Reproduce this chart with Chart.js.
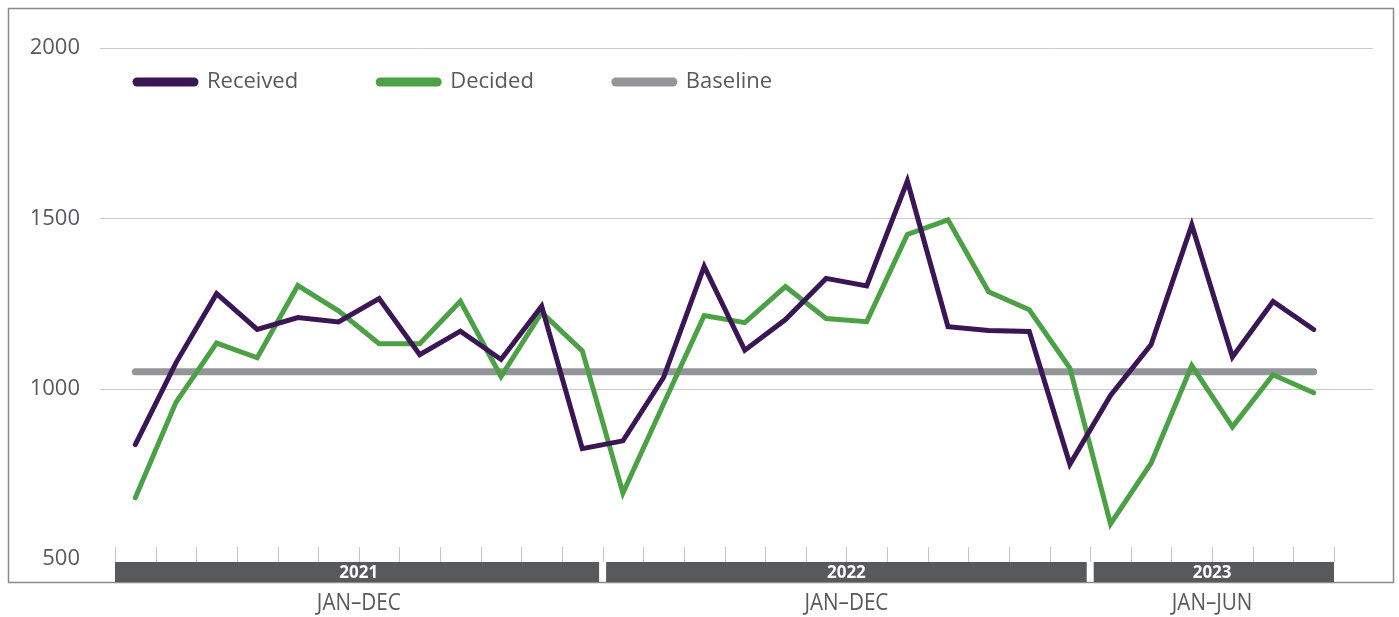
<!DOCTYPE html>
<html>
<head>
<meta charset="utf-8">
<script src="https://cdn.jsdelivr.net/npm/chart.js@4/dist/chart.umd.min.js"></script>
<style>
  html, body { margin: 0; padding: 0; background: #ffffff; }
  #wrap { position: relative; width: 1399px; height: 617px; }
</style>
</head>
<body>
<div id="wrap"><canvas id="c" width="1399" height="617"></canvas></div>
<script>
// Monthly categories, Jan 2021 – Jun 2023
const months = [
  '2021-01','2021-02','2021-03','2021-04','2021-05','2021-06',
  '2021-07','2021-08','2021-09','2021-10','2021-11','2021-12',
  '2022-01','2022-02','2022-03','2022-04','2022-05','2022-06',
  '2022-07','2022-08','2022-09','2022-10','2022-11','2022-12',
  '2023-01','2023-02','2023-03','2023-04','2023-05','2023-06'
];

const received = [
  836, 1076, 1279, 1174, 1209, 1196, 1265, 1100, 1169, 1086, 1242, 824,
  847, 1033, 1359, 1113, 1203, 1324, 1302, 1610, 1182, 1171, 1168, 778,
  980, 1130, 1481, 1093, 1256, 1174
];

const decided = [
  680, 960, 1134, 1091, 1303, 1229, 1132, 1132, 1257, 1036, 1224, 1111,
  694, 955, 1215, 1194, 1300, 1206, 1197, 1453, 1496, 1285, 1232, 1061,
  603, 782, 1068, 888, 1041, 988
];

const baseline = [
  1050, 1050, 1050, 1050, 1050, 1050, 1050, 1050, 1050, 1050, 1050, 1050,
  1050, 1050, 1050, 1050, 1050, 1050, 1050, 1050, 1050, 1050, 1050, 1050,
  1050, 1050, 1050, 1050, 1050, 1050
];

// Year groups under the axis
const years = ['2021', '2022', '2023'];
const monthsPerYear = [12, 12, 6];
const periodLabels = ['JAN\u2013DEC', 'JAN\u2013DEC', 'JAN\u2013JUN'];

// Value axis
const yMin = 500, yMax = 2000, yStep = 500;

const FONT = '"Open Sans", "Noto Sans", sans-serif';
const TEXT = '#58595b';

const chrome = {
  id: 'chrome',
  beforeDraw(chart) {
    const ctx = chart.ctx;
    ctx.save();
    ctx.fillStyle = '#ffffff';
    ctx.fillRect(0, 0, chart.width, chart.height);
    // outer frame
    ctx.strokeStyle = '#8a8a8a';
    ctx.lineWidth = 1.5;
    ctx.strokeRect(8.5, 8.5, 1385, 574);
    ctx.restore();
  },
  beforeDatasetsDraw(chart) {
    const ctx = chart.ctx, y = chart.scales.y;
    ctx.save();
    ctx.strokeStyle = '#c9c9c9';
    ctx.lineWidth = 1;
    y.ticks.forEach(t => {
      if (t.value <= yMin) return;
      const py = Math.round(y.getPixelForValue(t.value)) + 0.5;
      ctx.beginPath();
      ctx.moveTo(100, py);
      ctx.lineTo(1373, py);
      ctx.stroke();
    });
    ctx.restore();
  },
  afterDraw(chart) {
    const ctx = chart.ctx, x = chart.scales.x;
    const half = (x.getPixelForValue(1) - x.getPixelForValue(0)) / 2;
    const edge = i => x.getPixelForValue(i) - half;
    ctx.save();

    // month tick marks
    ctx.strokeStyle = '#c4c4c4';
    ctx.lineWidth = 1;
    for (let i = 0; i <= months.length; i++) {
      const px = Math.round(edge(i)) + 0.5;
      ctx.beginPath();
      ctx.moveTo(px, 547);
      ctx.lineTo(px, 562);
      ctx.stroke();
    }

    // year bars and period labels
    let start = 0;
    years.forEach((yr, k) => {
      const end = start + monthsPerYear[k];
      const x0 = edge(start) + (start > 0 ? 3.5 : 0);
      const x1 = edge(end) - (end < months.length ? 3.5 : 0);
      ctx.fillStyle = '#58595b';
      ctx.fillRect(x0, 562, x1 - x0, 20);
      const cx = (edge(start) + edge(end)) / 2;
      ctx.fillStyle = '#ffffff';
      ctx.font = 'bold 17px ' + FONT;
      ctx.textAlign = 'center';
      ctx.textBaseline = 'middle';
      ctx.fillText(yr, cx, 573);
      // condensed period caption
      ctx.save();
      ctx.translate(cx, 603);
      ctx.scale(0.86, 1);
      ctx.fillStyle = TEXT;
      ctx.font = '24px ' + FONT;
      ctx.fillText(periodLabels[k], 0, 0);
      ctx.restore();
      start = end;
    });

    // legend
    let lx = 133;
    const ly = 82;
    ctx.font = '22px ' + FONT;
    ctx.textAlign = 'left';
    ctx.textBaseline = 'middle';
    chart.data.datasets.forEach(ds => {
      ctx.strokeStyle = ds.borderColor;
      ctx.lineWidth = 9;
      ctx.lineCap = 'round';
      ctx.beginPath();
      ctx.moveTo(lx + 4, ly);
      ctx.lineTo(lx + 61, ly);
      ctx.stroke();
      ctx.fillStyle = TEXT;
      ctx.fillText(ds.label, lx + 74, ly);
      lx += 74 + ctx.measureText(ds.label).width + 78;
    });
    ctx.restore();
  }
};

new Chart(document.getElementById('c'), {
  type: 'line',
  data: {
    labels: months,
    datasets: [
      { label: 'Received', data: received, borderColor: '#3a1654', borderWidth: 5,
        pointRadius: 0, borderJoinStyle: 'miter', borderCapStyle: 'round', tension: 0 },
      { label: 'Decided', data: decided, borderColor: '#4ca046', borderWidth: 5,
        pointRadius: 0, borderJoinStyle: 'miter', borderCapStyle: 'round', tension: 0 },
      { label: 'Baseline', data: baseline, borderColor: '#939598', borderWidth: 7,
        pointRadius: 0, borderCapStyle: 'round', tension: 0 }
    ]
  },
  options: {
    responsive: false,
    animation: false,
    devicePixelRatio: 1,
    layout: { padding: { left: 0, right: 65, top: 48, bottom: 58 } },
    plugins: { legend: { display: false }, tooltip: { enabled: false } },
    scales: {
      x: { type: 'category', offset: true, display: false },
      y: {
        min: yMin, max: yMax,
        border: { display: false },
        grid: { display: false, drawTicks: false },
        ticks: { stepSize: yStep, padding: 35, color: TEXT, font: { size: 22, family: FONT },
                 callback: v => String(v) },
        afterFit(scale) { scale.width = 115; }
      }
    }
  },
  plugins: [chrome]
});
</script>
</body>
</html>
